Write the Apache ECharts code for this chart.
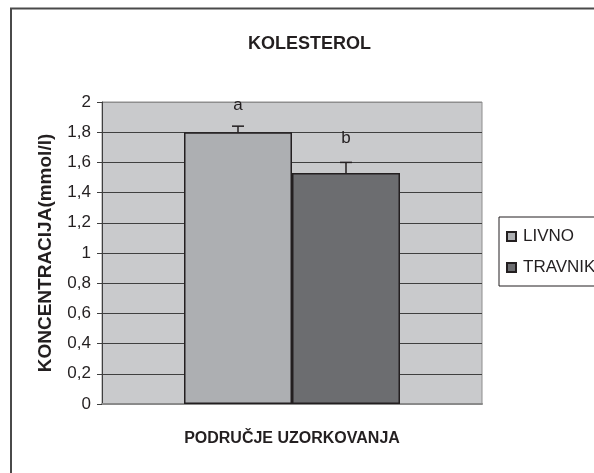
<!DOCTYPE html>
<html>
<head>
<meta charset="utf-8">
<script src="https://cdn.jsdelivr.net/npm/echarts@6/dist/echarts.min.js"></script>
<style>
  html, body { margin: 0; padding: 0; background: #fff; }
  #chart { width: 594px; height: 473px; }
</style>
</head>
<body>
<div id="chart"></div>
<script>
var categories = [''];
var seriesNames = ['LIVNO', 'TRAVNIK'];
var values = [1.8, 1.53];
var errors = [0.04, 0.07];
var letters = ['a', 'b'];
var yTickLabels = ['0', '0,2', '0,4', '0,6', '0,8', '1', '1,2', '1,4', '1,6', '1,8', '2'];
var barColors = ['#adafb2', '#6c6d70'];

var FONT = "'Liberation Sans', Arial, sans-serif";
var BAR_W = 108;

var myChart = echarts.init(document.getElementById('chart'));

// boje linija mreže: zadnja (vrh) svjetlija
var splitColors = [];
for (var i = 0; i < yTickLabels.length; i++) {
	splitColors.push(i == yTickLabels.length - 1 ? '#8e8e8e' : '#3f3f3f');
}

var series = [];
for (var i = 0; i < seriesNames.length; i++) {
	series.push({
		name: seriesNames[i],
		type: 'bar',
		barWidth: BAR_W,
		barGap: '0%',
		itemStyle: {
			color: barColors[i],
			borderColor: '#231f20',
			borderWidth: 1.5
		},
		data: [values[i]],
		z: 2
	});
}

// greške + slova
var errData = [];
for (var i = 0; i < values.length; i++) {
	errData.push([0, values[i], errors[i], i]);
}
series.push({
	type: 'custom',
	z: 5,
	silent: true,
	data: errData,
	renderItem: function (params, api) {
		var idx = api.value(3);
		var v = api.value(1);
		var e = api.value(2);
		var base = api.coord([0, v]);
		var top = api.coord([0, v + e]);
		var x = base[0] + (idx - 0.5) * BAR_W;
		var st = { stroke: '#231f20', lineWidth: 1.5 };
		return {
			type: 'group',
			children: [
				{ type: 'line', shape: { x1: x, y1: base[1], x2: x, y2: top[1] }, style: st },
				{ type: 'line', shape: { x1: x - 6, y1: top[1], x2: x + 6, y2: top[1] }, style: st },
				{ type: 'text', style: {
					text: letters[idx], x: x, y: top[1] - 12 - idx * 4,
					textAlign: 'center', textVerticalAlign: 'bottom',
					font: '17px ' + FONT, fill: '#231f20'
				} }
			]
		};
	}
});

var option = {
	animation: false,
	backgroundColor: '#fff',
	textStyle: { fontFamily: FONT },
	title: {
		text: 'KOLESTEROL',
		left: 243,
		top: 30,
		textStyle: { fontSize: 18, fontWeight: 'bold', color: '#231f20', fontFamily: FONT }
	},
	graphic: [{
		type: 'rect',
		shape: { x: 11, y: 8.5, width: 700, height: 600 },
		style: { fill: 'none', stroke: '#4a4a4a', lineWidth: 2 },
		silent: true
	}],
	legend: {
		data: seriesNames,
		orient: 'vertical',
		left: 499,
		top: 217,
		padding: [11, 30, 10, 7],
		itemGap: 14,
		itemWidth: 9,
		itemHeight: 9,
		icon: 'rect',
		borderColor: '#231f20',
		borderWidth: 1,
		textStyle: { fontSize: 17, color: '#231f20', fontFamily: FONT, padding: [0, 0, 0, 2] }
	},
	grid: {
		left: 102,
		right: 112,
		top: 102,
		bottom: 69,
		show: true,
		backgroundColor: '#c9cacc',
		borderColor: '#8e8e8e',
		borderWidth: 1
	},
	xAxis: {
		type: 'category',
		data: categories,
		name: 'PODRUČJE UZORKOVANJA',
		nameLocation: 'middle',
		nameGap: 27,
		nameTextStyle: { fontSize: 16, fontWeight: 'bold', color: '#231f20', fontFamily: FONT },
		axisLine: { lineStyle: { color: '#8a8a8a', width: 2 } },
		axisTick: { show: false },
		axisLabel: { show: false }
	},
	yAxis: {
		type: 'value',
		min: 0,
		max: 2,
		interval: 0.2,
		name: 'KONCENTRACIJA(mmol/l)',
		nameLocation: 'middle',
		nameRotate: 90,
		nameGap: 47,
		nameTextStyle: { fontSize: 19, fontWeight: 'bold', color: '#231f20', fontFamily: FONT },
		axisLine: { show: true, lineStyle: { color: '#3f3f3f', width: 1 } },
		axisTick: { show: true, length: 5, lineStyle: { color: '#3f3f3f' } },
		axisLabel: {
			fontSize: 17,
			color: '#231f20',
			margin: 11,
			fontFamily: FONT,
			formatter: function (v) {
				return yTickLabels[Math.round(v / 0.2)];
			}
		},
		splitLine: { show: true, lineStyle: { color: splitColors, width: 1 } }
	},
	series: series
};

myChart.setOption(option, true);
</script>
</body>
</html>
